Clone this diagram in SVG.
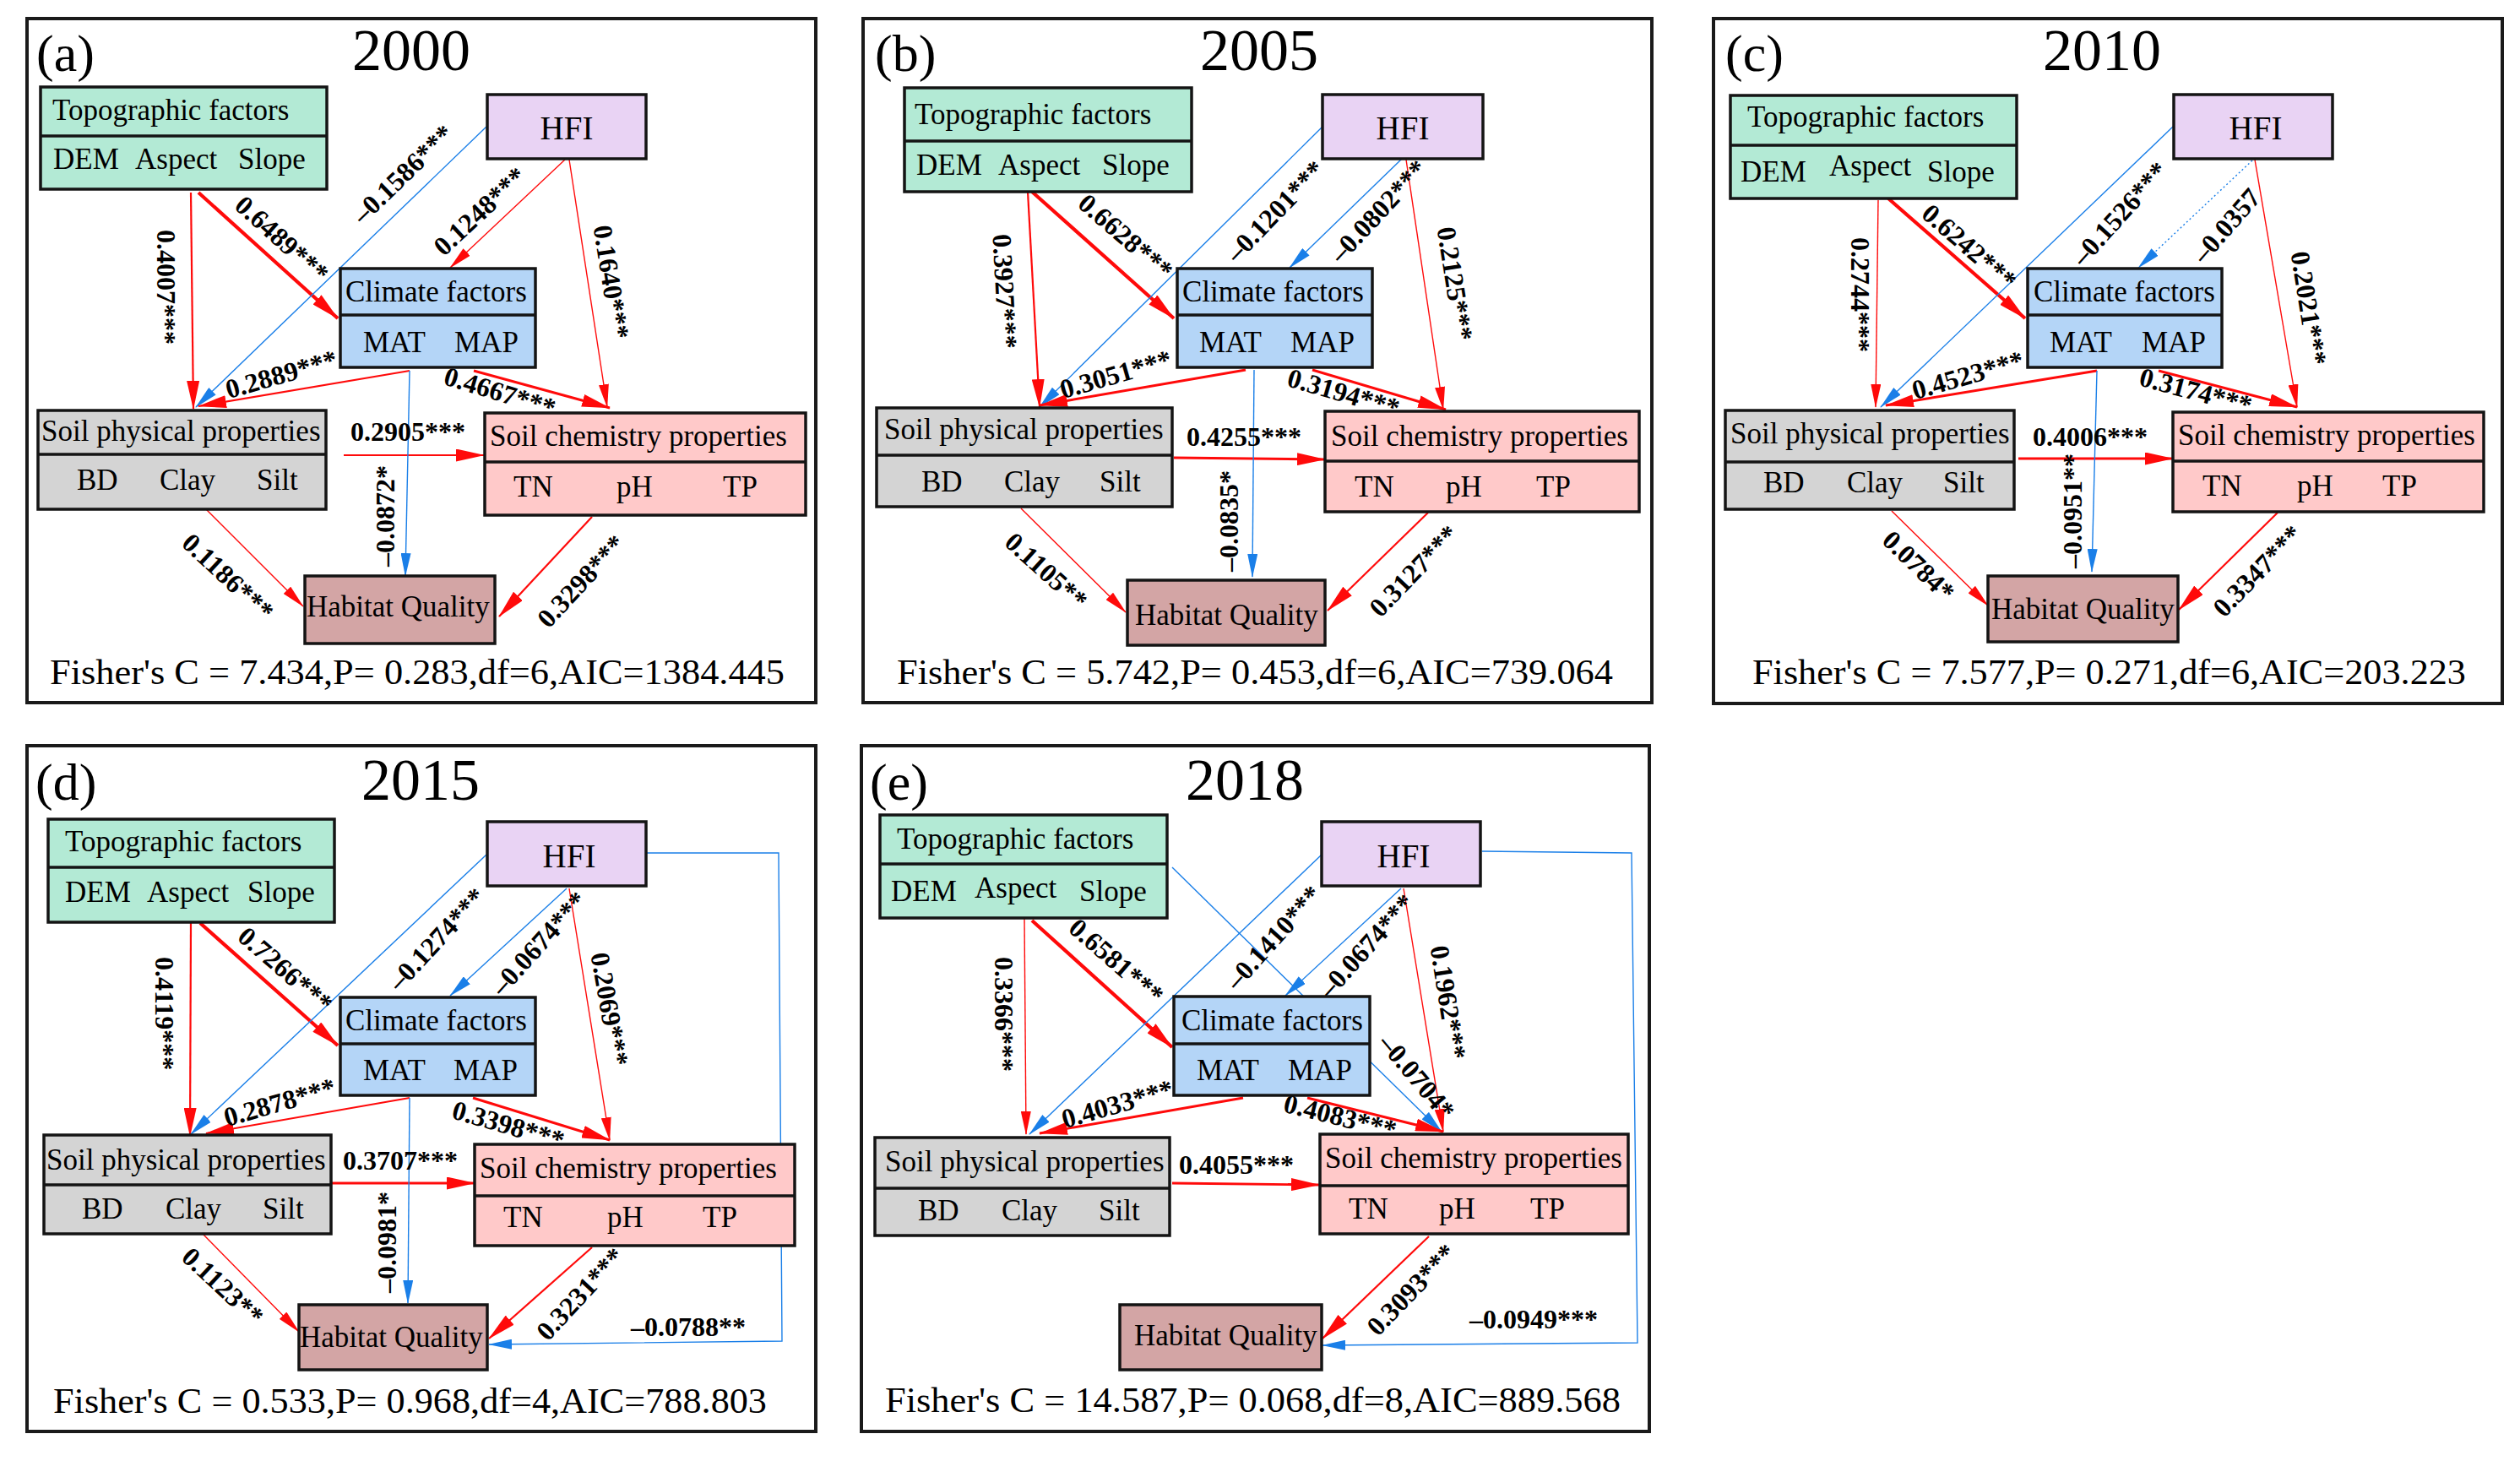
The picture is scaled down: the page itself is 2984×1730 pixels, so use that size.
<svg xmlns="http://www.w3.org/2000/svg" width="2984" height="1730" viewBox="0 0 2984 1730">
<defs>
<style>
.bd{fill:none;stroke:#1a1a1a;stroke-width:4}
.node rect{stroke:#141414;stroke-width:3.5}
.node line{stroke:#141414;stroke-width:3.5}
.topo{fill:#b3ead5}.hfi{fill:#e9d3f4}.clim{fill:#b4d5f7}.phys{fill:#d4d4d4}.chem{fill:#ffc9c9}.hab{fill:#d3a5a5}
.t{font-family:"Liberation Serif","Times New Roman",serif;font-size:35px;fill:#000}
.h{font-size:39px}
.lbl{font-family:"Liberation Serif","Times New Roman",serif;font-size:32px;font-weight:bold;fill:#000}
.fs{font-family:"Liberation Serif","Times New Roman",serif;font-size:42px;fill:#000}
.yr{font-family:"Liberation Serif","Times New Roman",serif;font-size:70px;fill:#000}
.pl{font-family:"Liberation Serif","Times New Roman",serif;font-size:62px;fill:#000}
.r{stroke:#ff0a0a;fill:none}.b{stroke:#1a7fe8;fill:none}
.w1{stroke-width:1.4}.w2{stroke-width:2.2}.w3{stroke-width:2.9}.w4{stroke-width:4.2}
.dot{stroke-dasharray:2 3}
</style>
<marker id="arR" markerUnits="userSpaceOnUse" markerWidth="34" markerHeight="15" viewBox="0 0 34 15" refX="33" refY="7.5" orient="auto"><path d="M0,0 L34,7.5 L0,15 z" fill="#ff0a0a"/></marker>
<marker id="arRs" markerUnits="userSpaceOnUse" markerWidth="28" markerHeight="12" viewBox="0 0 28 12" refX="27" refY="6" orient="auto"><path d="M0,0 L28,6 L0,12 z" fill="#ff0a0a"/></marker>
<marker id="arB" markerUnits="userSpaceOnUse" markerWidth="28" markerHeight="12" viewBox="0 0 28 12" refX="27" refY="6" orient="auto"><path d="M0,0 L28,6 L0,12 z" fill="#1a7fe8"/></marker>
</defs>
<rect width="2984" height="1730" fill="#fff"/>

<!-- frames and titles -->
<g id="frames">
<rect class="bd" x="32" y="22" width="934" height="810"/>
<rect class="bd" x="1022" y="22" width="934" height="810"/>
<rect class="bd" x="2029" y="22" width="934" height="811"/>
<rect class="bd" x="32" y="883" width="934" height="812"/>
<rect class="bd" x="1020" y="883" width="933" height="812"/>
<text class="pl" x="43" y="84">(a)</text>
<text class="yr" x="487" y="83" text-anchor="middle">2000</text>
<text class="pl" x="1036" y="84">(b)</text>
<text class="yr" x="1491" y="83" text-anchor="middle">2005</text>
<text class="pl" x="2043" y="84">(c)</text>
<text class="yr" x="2489" y="83" text-anchor="middle">2010</text>
<text class="pl" x="42" y="947">(d)</text>
<text class="yr" x="498" y="947" text-anchor="middle">2015</text>
<text class="pl" x="1030" y="947">(e)</text>
<text class="yr" x="1474" y="947" text-anchor="middle">2018</text>
<text class="fs" x="59" y="810" textLength="870" lengthAdjust="spacingAndGlyphs">Fisher's C = 7.434,P= 0.283,df=6,AIC=1384.445</text>
<text class="fs" x="1062" y="810" textLength="848" lengthAdjust="spacingAndGlyphs">Fisher's C = 5.742,P= 0.453,df=6,AIC=739.064</text>
<text class="fs" x="2075" y="810" textLength="845" lengthAdjust="spacingAndGlyphs">Fisher's C = 7.577,P= 0.271,df=6,AIC=203.223</text>
<text class="fs" x="63" y="1673" textLength="845" lengthAdjust="spacingAndGlyphs">Fisher's C = 0.533,P= 0.968,df=4,AIC=788.803</text>
<text class="fs" x="1048" y="1672" textLength="871" lengthAdjust="spacingAndGlyphs">Fisher's C = 14.587,P= 0.068,df=8,AIC=889.568</text>
</g>

<g id="connectors">
<!-- (a) -->
<path class="r w2" d="M226,228 L229,484" marker-end="url(#arR)"/>
<path class="r w4" d="M235,228 L400,377" marker-end="url(#arR)"/>
<path class="b w1" d="M576,150 L232,482" marker-end="url(#arB)"/>
<path class="r w1" d="M669,189 L533,317" marker-end="url(#arRs)"/>
<path class="r w1" d="M674,189 L719,482" marker-end="url(#arRs)"/>
<path class="r w2" d="M485,439 L235,481" marker-end="url(#arR)"/>
<path class="r w3" d="M561,439 L722,483" marker-end="url(#arR)"/>
<path class="r w2" d="M407,539 L573,539" marker-end="url(#arR)"/>
<path class="b w1" d="M485,439 L480,682" marker-end="url(#arB)"/>
<path class="r w1" d="M244,603 L359,718" marker-end="url(#arRs)"/>
<path class="r w2" d="M701,612 L591,730" marker-end="url(#arR)"/>
<text class="lbl" text-anchor="middle" y="11" transform="translate(197,340) rotate(90)">0.4007***</text>
<text class="lbl" text-anchor="middle" y="11" transform="translate(334,283) rotate(42)">0.6489***</text>
<text class="lbl" text-anchor="middle" y="11" transform="translate(477,206) rotate(-44)">–0.1586***</text>
<text class="lbl" text-anchor="middle" y="11" transform="translate(568,250) rotate(-43)">0.1248***</text>
<text class="lbl" text-anchor="middle" y="11" transform="translate(724,334) rotate(81)">0.1640***</text>
<text class="lbl" text-anchor="middle" y="11" transform="translate(333,443) rotate(-16)">0.2889***</text>
<text class="lbl" text-anchor="middle" y="11" transform="translate(592,464) rotate(17)">0.4667***</text>
<text class="lbl" x="415" y="522">0.2905***</text>
<text class="lbl" text-anchor="middle" y="11" transform="translate(456,611) rotate(-90)">–0.0872*</text>
<text class="lbl" text-anchor="middle" y="11" transform="translate(270,683) rotate(43)">0.1186***</text>
<text class="lbl" text-anchor="middle" y="11" transform="translate(688,688) rotate(-47)">0.3298***</text>

<!-- (b) -->
<path class="r w2" d="M1217,227 L1231,482" marker-end="url(#arR)"/>
<path class="r w4" d="M1222,227 L1390,377" marker-end="url(#arR)"/>
<path class="b w1" d="M1566,150 L1231,482" marker-end="url(#arB)"/>
<path class="b w1" d="M1660,188 L1527,317" marker-end="url(#arB)"/>
<path class="r w1" d="M1665,189 L1709,485" marker-end="url(#arRs)"/>
<path class="r w3" d="M1475,438 L1231,480" marker-end="url(#arR)"/>
<path class="r w3" d="M1554,438 L1712,485" marker-end="url(#arR)"/>
<path class="r w3" d="M1390,542 L1569,544" marker-end="url(#arR)"/>
<path class="b w1" d="M1485,438 L1483,683" marker-end="url(#arB)"/>
<path class="r w1" d="M1209,602 L1333,725" marker-end="url(#arRs)"/>
<path class="r w2" d="M1691,607 L1572,723" marker-end="url(#arR)"/>
<text class="lbl" text-anchor="middle" y="11" transform="translate(1190,345) rotate(87)">0.3927***</text>
<text class="lbl" text-anchor="middle" y="11" transform="translate(1333,280) rotate(41)">0.6628***</text>
<text class="lbl" text-anchor="middle" y="11" transform="translate(1510,250) rotate(-46)">–0.1201***</text>
<text class="lbl" text-anchor="middle" y="11" transform="translate(1632,250) rotate(-47)">–0.0802***</text>
<text class="lbl" text-anchor="middle" y="11" transform="translate(1723,336) rotate(81)">0.2125***</text>
<text class="lbl" text-anchor="middle" y="11" transform="translate(1321,443) rotate(-16)">0.3051***</text>
<text class="lbl" text-anchor="middle" y="11" transform="translate(1591,465) rotate(16)">0.3194***</text>
<text class="lbl" x="1405" y="528">0.4255***</text>
<text class="lbl" text-anchor="middle" y="11" transform="translate(1455,617) rotate(-90)">–0.0835*</text>
<text class="lbl" text-anchor="middle" y="11" transform="translate(1239,676) rotate(42)">0.1105**</text>
<text class="lbl" text-anchor="middle" y="11" transform="translate(1674,676) rotate(-46)">0.3127***</text>

<!-- (c) -->
<path class="r w1" d="M2224,237 L2221,482" marker-end="url(#arRs)"/>
<path class="r w4" d="M2236,235 L2398,377" marker-end="url(#arR)"/>
<path class="b w1" d="M2573,150 L2227,482" marker-end="url(#arB)"/>
<path class="b w1 dot" d="M2667,190 L2532,317" marker-end="url(#arB)"/>
<path class="r w1" d="M2670,189 L2720,482" marker-end="url(#arRs)"/>
<path class="r w3" d="M2483,439 L2233,480" marker-end="url(#arR)"/>
<path class="r w3" d="M2556,439 L2720,482" marker-end="url(#arR)"/>
<path class="r w3" d="M2390,543 L2573,543" marker-end="url(#arR)"/>
<path class="b w1" d="M2483,439 L2477,677" marker-end="url(#arB)"/>
<path class="r w1" d="M2240,605 L2354,717" marker-end="url(#arRs)"/>
<path class="r w2" d="M2697,607 L2580,722" marker-end="url(#arR)"/>
<text class="lbl" text-anchor="middle" y="11" transform="translate(2203,349) rotate(90)">0.2744***</text>
<text class="lbl" text-anchor="middle" y="11" transform="translate(2332,292) rotate(41)">0.6242***</text>
<text class="lbl" text-anchor="middle" y="11" transform="translate(2510,253) rotate(-48)">–0.1526***</text>
<text class="lbl" text-anchor="middle" y="11" transform="translate(2636,267) rotate(-49)">–0.0357</text>
<text class="lbl" text-anchor="middle" y="11" transform="translate(2734,365) rotate(81)">0.2021***</text>
<text class="lbl" text-anchor="middle" y="11" transform="translate(2330,444) rotate(-16)">0.4523***</text>
<text class="lbl" text-anchor="middle" y="11" transform="translate(2600,463) rotate(15)">0.3174***</text>
<text class="lbl" x="2407" y="528">0.4006***</text>
<text class="lbl" text-anchor="middle" y="11" transform="translate(2454,605) rotate(-90)">–0.0951**</text>
<text class="lbl" text-anchor="middle" y="11" transform="translate(2272,670) rotate(44)">0.0784*</text>
<text class="lbl" text-anchor="middle" y="11" transform="translate(2673,676) rotate(-46)">0.3347***</text>

<!-- (d) -->
<path class="r w2" d="M226,1093 L225,1345" marker-end="url(#arR)"/>
<path class="r w4" d="M237,1093 L400,1238" marker-end="url(#arR)"/>
<path class="b w1" d="M576,1012 L226,1343" marker-end="url(#arB)"/>
<path class="b w1" d="M671,1052 L533,1179" marker-end="url(#arB)"/>
<path class="r w1" d="M674,1052 L722,1350" marker-end="url(#arRs)"/>
<path class="r w2" d="M485,1300 L244,1342" marker-end="url(#arR)"/>
<path class="r w3" d="M560,1300 L722,1350" marker-end="url(#arR)"/>
<path class="r w3" d="M392,1401 L562,1401" marker-end="url(#arR)"/>
<path class="b w1" d="M485,1300 L483,1543" marker-end="url(#arB)"/>
<path class="r w1" d="M241,1462 L354,1577" marker-end="url(#arRs)"/>
<path class="r w2" d="M701,1477 L579,1585" marker-end="url(#arR)"/>
<path class="b w1" d="M765,1010 L922,1010 L926,1588 L579,1592" marker-end="url(#arB)"/>
<text class="lbl" text-anchor="middle" y="11" transform="translate(195,1200) rotate(90)">0.4119***</text>
<text class="lbl" text-anchor="middle" y="11" transform="translate(338,1148) rotate(41)">0.7266***</text>
<text class="lbl" text-anchor="middle" y="11" transform="translate(517,1112) rotate(-47)">–0.1274***</text>
<text class="lbl" text-anchor="middle" y="11" transform="translate(638,1117) rotate(-48)">–0.0674***</text>
<text class="lbl" text-anchor="middle" y="11" transform="translate(722,1195) rotate(80)">0.2069***</text>
<text class="lbl" text-anchor="middle" y="11" transform="translate(331,1305) rotate(-16)">0.2878***</text>
<text class="lbl" text-anchor="middle" y="11" transform="translate(602,1332) rotate(16)">0.3398***</text>
<text class="lbl" x="406" y="1385">0.3707***</text>
<text class="lbl" text-anchor="middle" y="11" transform="translate(458,1471) rotate(-90)">–0.0981*</text>
<text class="lbl" text-anchor="middle" y="11" transform="translate(264,1523) rotate(43)">0.1123**</text>
<text class="lbl" text-anchor="middle" y="11" transform="translate(687,1532) rotate(-47)">0.3231***</text>
<text class="lbl" x="747" y="1582">–0.0788**</text>

<!-- (e) -->
<path class="r w1" d="M1213,1088 L1215,1343" marker-end="url(#arRs)"/>
<path class="r w4" d="M1222,1090 L1388,1240" marker-end="url(#arR)"/>
<path class="b w1" d="M1565,1012 L1219,1343" marker-end="url(#arB)"/>
<path class="b w1" d="M1659,1052 L1522,1179" marker-end="url(#arB)"/>
<path class="r w1" d="M1662,1052 L1709,1340" marker-end="url(#arRs)"/>
<path class="b w1" d="M1388,1027 L1707,1340" marker-end="url(#arB)"/>
<path class="r w3" d="M1472,1300 L1231,1342" marker-end="url(#arR)"/>
<path class="r w3" d="M1548,1300 L1709,1340" marker-end="url(#arR)"/>
<path class="r w3" d="M1388,1401 L1562,1403" marker-end="url(#arR)"/>
<path class="r w2" d="M1692,1464 L1566,1585" marker-end="url(#arR)"/>
<path class="b w1" d="M1755,1008 L1932,1010 L1939,1590 L1566,1593" marker-end="url(#arB)"/>
<text class="lbl" text-anchor="middle" y="11" transform="translate(1189,1201) rotate(90)">0.3366***</text>
<text class="lbl" text-anchor="middle" y="11" transform="translate(1322,1138) rotate(41)">0.6581***</text>
<text class="lbl" text-anchor="middle" y="11" transform="translate(1508,1110) rotate(-48)">–0.1410***</text>
<text class="lbl" text-anchor="middle" y="11" transform="translate(1618,1120) rotate(-48)">–0.0674***</text>
<text class="lbl" text-anchor="middle" y="11" transform="translate(1715,1187) rotate(81)">0.1962***</text>
<text class="lbl" text-anchor="middle" y="11" transform="translate(1678,1275) rotate(50)">–0.0704*</text>
<text class="lbl" text-anchor="middle" y="11" transform="translate(1323,1307) rotate(-16)">0.4033***</text>
<text class="lbl" text-anchor="middle" y="11" transform="translate(1587,1322) rotate(14)">0.4083***</text>
<text class="lbl" x="1396" y="1390">0.4055***</text>
<text class="lbl" text-anchor="middle" y="11" transform="translate(1671,1527) rotate(-46)">0.3093***</text>
<text class="lbl" x="1740" y="1573">–0.0949***</text>
</g>

<!-- nodes (a) -->
<g id="a-topo" class="node"><rect class="topo" x="48" y="103" width="339" height="121"/><line x1="48" y1="161" x2="387" y2="161"/><text class="t" x="62" y="142">Topographic factors</text><text class="t" x="63" y="200">DEM</text><text class="t" x="160" y="200">Aspect</text><text class="t" x="282" y="200">Slope</text></g>
<g id="a-hfi" class="node"><rect class="hfi" x="577" y="112" width="188" height="76"/><text class="t h" x="671" y="165" text-anchor="middle">HFI</text></g>
<g id="a-clim" class="node"><rect class="clim" x="403" y="318" width="231" height="117"/><line x1="403" y1="373" x2="634" y2="373"/><text class="t" x="409" y="357">Climate factors</text><text class="t" x="430" y="417">MAT</text><text class="t" x="538" y="417">MAP</text></g>
<g id="a-phys" class="node"><rect class="phys" x="45" y="486" width="341" height="117"/><line x1="45" y1="538" x2="386" y2="538"/><text class="t" x="49" y="522">Soil physical properties</text><text class="t" x="91" y="580">BD</text><text class="t" x="189" y="580">Clay</text><text class="t" x="304" y="580">Silt</text></g>
<g id="a-chem" class="node"><rect class="chem" x="574" y="489" width="380" height="121"/><line x1="574" y1="547" x2="954" y2="547"/><text class="t" x="580" y="528">Soil chemistry properties</text><text class="t" x="608" y="588">TN</text><text class="t" x="730" y="588">pH</text><text class="t" x="856" y="588">TP</text></g>
<g id="a-hab" class="node"><rect class="hab" x="361" y="682" width="225" height="80"/><text class="t" x="363" y="730">Habitat Quality</text></g>

<!-- nodes (b) -->
<g id="b-topo" class="node"><rect class="topo" x="1071" y="104" width="340" height="123"/><line x1="1071" y1="167" x2="1411" y2="167"/><text class="t" x="1083" y="147">Topographic factors</text><text class="t" x="1085" y="207">DEM</text><text class="t" x="1182" y="207">Aspect</text><text class="t" x="1305" y="207">Slope</text></g>
<g id="b-hfi" class="node"><rect class="hfi" x="1566" y="112" width="190" height="76"/><text class="t h" x="1661" y="165" text-anchor="middle">HFI</text></g>
<g id="b-clim" class="node"><rect class="clim" x="1394" y="318" width="231" height="117"/><line x1="1394" y1="373" x2="1625" y2="373"/><text class="t" x="1400" y="357">Climate factors</text><text class="t" x="1420" y="417">MAT</text><text class="t" x="1528" y="417">MAP</text></g>
<g id="b-phys" class="node"><rect class="phys" x="1038" y="483" width="350" height="117"/><line x1="1038" y1="539" x2="1388" y2="539"/><text class="t" x="1047" y="520">Soil physical properties</text><text class="t" x="1091" y="582">BD</text><text class="t" x="1189" y="582">Clay</text><text class="t" x="1302" y="582">Silt</text></g>
<g id="b-chem" class="node"><rect class="chem" x="1569" y="487" width="372" height="119"/><line x1="1569" y1="546" x2="1941" y2="546"/><text class="t" x="1576" y="528">Soil chemistry properties</text><text class="t" x="1604" y="588">TN</text><text class="t" x="1712" y="588">pH</text><text class="t" x="1819" y="588">TP</text></g>
<g id="b-hab" class="node"><rect class="hab" x="1335" y="687" width="234" height="77"/><text class="t" x="1344" y="740">Habitat Quality</text></g>

<!-- nodes (c) -->
<g id="c-topo" class="node"><rect class="topo" x="2049" y="113" width="339" height="122"/><line x1="2049" y1="172" x2="2388" y2="172"/><text class="t" x="2069" y="150">Topographic factors</text><text class="t" x="2061" y="215">DEM</text><text class="t" x="2166" y="208">Aspect</text><text class="t" x="2282" y="215">Slope</text></g>
<g id="c-hfi" class="node"><rect class="hfi" x="2574" y="112" width="188" height="76"/><text class="t h" x="2671" y="165" text-anchor="middle">HFI</text></g>
<g id="c-clim" class="node"><rect class="clim" x="2401" y="318" width="230" height="117"/><line x1="2401" y1="373" x2="2631" y2="373"/><text class="t" x="2408" y="357">Climate factors</text><text class="t" x="2427" y="417">MAT</text><text class="t" x="2536" y="417">MAP</text></g>
<g id="c-phys" class="node"><rect class="phys" x="2043" y="486" width="342" height="117"/><line x1="2043" y1="547" x2="2385" y2="547"/><text class="t" x="2049" y="525">Soil physical properties</text><text class="t" x="2088" y="583">BD</text><text class="t" x="2187" y="583">Clay</text><text class="t" x="2301" y="583">Silt</text></g>
<g id="c-chem" class="node"><rect class="chem" x="2573" y="488" width="368" height="118"/><line x1="2573" y1="546" x2="2941" y2="546"/><text class="t" x="2579" y="527">Soil chemistry properties</text><text class="t" x="2608" y="587">TN</text><text class="t" x="2720" y="587">pH</text><text class="t" x="2821" y="587">TP</text></g>
<g id="c-hab" class="node"><rect class="hab" x="2354" y="682" width="225" height="78"/><text class="t" x="2358" y="733">Habitat Quality</text></g>

<!-- nodes (d) -->
<g id="d-topo" class="node"><rect class="topo" x="57" y="970" width="339" height="122"/><line x1="57" y1="1027" x2="396" y2="1027"/><text class="t" x="77" y="1008">Topographic factors</text><text class="t" x="77" y="1068">DEM</text><text class="t" x="174" y="1068">Aspect</text><text class="t" x="293" y="1068">Slope</text></g>
<g id="d-hfi" class="node"><rect class="hfi" x="577" y="973" width="188" height="76"/><text class="t h" x="674" y="1027" text-anchor="middle">HFI</text></g>
<g id="d-clim" class="node"><rect class="clim" x="403" y="1181" width="231" height="116"/><line x1="403" y1="1236" x2="634" y2="1236"/><text class="t" x="409" y="1220">Climate factors</text><text class="t" x="430" y="1279">MAT</text><text class="t" x="537" y="1279">MAP</text></g>
<g id="d-phys" class="node"><rect class="phys" x="52" y="1344" width="340" height="117"/><line x1="52" y1="1403" x2="392" y2="1403"/><text class="t" x="55" y="1385">Soil physical properties</text><text class="t" x="97" y="1443">BD</text><text class="t" x="196" y="1443">Clay</text><text class="t" x="311" y="1443">Silt</text></g>
<g id="d-chem" class="node"><rect class="chem" x="562" y="1355" width="379" height="120"/><line x1="562" y1="1416" x2="941" y2="1416"/><text class="t" x="568" y="1395">Soil chemistry properties</text><text class="t" x="596" y="1453">TN</text><text class="t" x="719" y="1453">pH</text><text class="t" x="832" y="1453">TP</text></g>
<g id="d-hab" class="node"><rect class="hab" x="354" y="1545" width="223" height="77"/><text class="t" x="355" y="1595">Habitat Quality</text></g>

<!-- nodes (e) -->
<g id="e-topo" class="node"><rect class="topo" x="1042" y="965" width="340" height="122"/><line x1="1042" y1="1023" x2="1382" y2="1023"/><text class="t" x="1062" y="1005">Topographic factors</text><text class="t" x="1055" y="1067">DEM</text><text class="t" x="1154" y="1063">Aspect</text><text class="t" x="1278" y="1067">Slope</text></g>
<g id="e-hfi" class="node"><rect class="hfi" x="1565" y="973" width="188" height="76"/><text class="t h" x="1662" y="1027" text-anchor="middle">HFI</text></g>
<g id="e-clim" class="node"><rect class="clim" x="1390" y="1180" width="232" height="117"/><line x1="1390" y1="1236" x2="1622" y2="1236"/><text class="t" x="1399" y="1220">Climate factors</text><text class="t" x="1417" y="1279">MAT</text><text class="t" x="1525" y="1279">MAP</text></g>
<g id="e-phys" class="node"><rect class="phys" x="1036" y="1347" width="349" height="116"/><line x1="1036" y1="1407" x2="1385" y2="1407"/><text class="t" x="1048" y="1387">Soil physical properties</text><text class="t" x="1087" y="1445">BD</text><text class="t" x="1186" y="1445">Clay</text><text class="t" x="1301" y="1445">Silt</text></g>
<g id="e-chem" class="node"><rect class="chem" x="1563" y="1343" width="365" height="118"/><line x1="1563" y1="1404" x2="1928" y2="1404"/><text class="t" x="1569" y="1383">Soil chemistry properties</text><text class="t" x="1597" y="1443">TN</text><text class="t" x="1704" y="1443">pH</text><text class="t" x="1812" y="1443">TP</text></g>
<g id="e-hab" class="node"><rect class="hab" x="1326" y="1545" width="239" height="77"/><text class="t" x="1343" y="1593">Habitat Quality</text></g>
</svg>
